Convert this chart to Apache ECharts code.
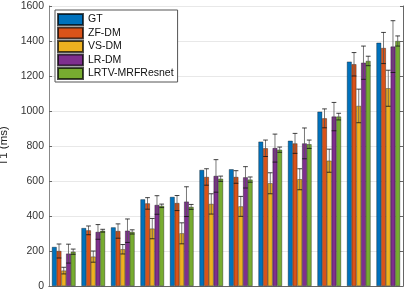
<!DOCTYPE html>
<html>
<head>
<meta charset="utf-8">
<script src="https://cdn.jsdelivr.net/npm/echarts@6/dist/echarts.min.js"></script>
<style>
html,body{margin:0;padding:0;background:#fff;}
#chart{width:407px;height:294px;}
</style>
</head>
<body>
<div id="chart"></div>
<script>
const categories = ['1','2','3','4','5','6','7','8','9','10','11','12'];
const seriesNames = ['GT','ZF-DM','VS-DM','LR-DM','LRTV-MRFResnet'];
const gtValues   = [223, 331, 335, 495, 509, 663, 667, 825, 830, 996, 1282, 1390];
const zfValues   = [200, 318, 314, 472, 474, 623, 623, 787, 815, 958, 1267, 1360];
const zfErr      = [40, 25, 41, 33, 43, 47, 36, 47, 57, 54, 67, 89];
const vsValues   = [88, 168, 210, 328, 301, 469, 455, 587, 610, 716, 1029, 1130];
const vsErr      = [19, 32, 27, 58, 60, 58, 57, 60, 60, 66, 96, 103];
const lrValues   = [185, 309, 316, 463, 482, 629, 621, 788, 815, 968, 1276, 1368];
const lrErr      = [54, 42, 67, 53, 85, 93, 61, 80, 88, 81, 95, 148];
const lrtvValues = [196, 316, 309, 458, 452, 613, 608, 779, 810, 968, 1286, 1400];
const lrtvErr    = [15, 8, 12, 10, 14, 15, 15, 15, 24, 19, 27, 29];
const yTicks = [0, 200, 400, 600, 800, 1000, 1200, 1400, 1600];

const colors = ['#0072BD','#D95319','#EDB120','#7E2F8E','#77AC30'];
const allValues = [gtValues, zfValues, vsValues, lrValues, lrtvValues];
const allErr = [null, zfErr, vsErr, lrErr, lrtvErr];
const nSeries = 5;
const groupFrac = 0.8;

const chart = echarts.init(document.getElementById('chart'), null, {renderer:'canvas'});

const series = [];
allValues.forEach((vals, i) => {
  series.push({
    name: seriesNames[i],
    type: 'bar',
    data: vals,
    barGap: '0%',
    barCategoryGap: '20%',
    itemStyle: {color: colors[i], borderColor: 'rgba(0,0,0,0.7)', borderWidth: 0.5},
    emphasis: {disabled: true},
    z: 2
  });
});
allErr.forEach((errs, i) => {
  if (!errs) return;
  const data = allValues[i].map((v, k) => [k, v - errs[k], v + errs[k]]);
  series.push({
    type: 'custom',
    name: seriesNames[i] + '-err',
    data: data,
    z: 5,
    silent: true,
    encode: {x: 0, y: [1, 2]},
    renderItem: function (params, api) {
      const k = api.value(0);
      const lo = api.coord([k, api.value(1)]);
      const hi = api.coord([k, api.value(2)]);
      const band = api.size([1, 0])[0];
      const bw = band * groupFrac / nSeries;
      const x = lo[0] + (i - (nSeries - 1) / 2) * bw;
      const cap = bw * 0.5;
      const st = {stroke: '#111', lineWidth: 0.8};
      return {
        type: 'group',
        children: [
          {type: 'line', shape: {x1: x, y1: lo[1], x2: x, y2: hi[1]}, style: {stroke: '#555', lineWidth: 0.8}},
          {type: 'line', shape: {x1: x - cap, y1: lo[1], x2: x + cap, y2: lo[1]}, style: st},
          {type: 'line', shape: {x1: x - cap, y1: hi[1], x2: x + cap, y2: hi[1]}, style: st}
        ]
      };
    }
  });
});

const option = {
  animation: false,
  backgroundColor: '#fff',
  textStyle: {fontFamily: 'Liberation Sans, Arial, sans-serif'},
  grid: {left: 49, right: 4, top: 6, bottom: 8, containLabel: false, outerBoundsMode: 'none'},
  legend: {
    data: seriesNames,
    orient: 'vertical',
    left: 55,
    top: 10,
    itemWidth: 25,
    itemHeight: 11,
    itemGap: 0.5,
    padding: [3, 4, 2, 2],
    backgroundColor: '#fff',
    borderColor: '#555',
    borderWidth: 1,
    icon: 'rect',
    textStyle: {fontSize: 10.5, lineHeight: 13, color: '#111', fontFamily: 'Liberation Sans, Arial, sans-serif'}
  },
  xAxis: [
    {type: 'category', data: categories, position: 'bottom',
     axisLine: {show: true, lineStyle: {color: '#888', width: 1}},
     axisTick: {show: false}, axisLabel: {show: false}, splitLine: {show: false}},
    {type: 'category', data: categories, position: 'top',
     axisLine: {show: true, lineStyle: {color: '#666', width: 1}},
     axisTick: {show: false}, axisLabel: {show: false}, splitLine: {show: false}}
  ],
  yAxis: [
    {type: 'value', min: 0, max: 1600, interval: 200, position: 'left',
     name: 'T1 (ms)', nameLocation: 'middle', nameRotate: 90, nameGap: 30,
     nameTextStyle: {fontSize: 11.5, color: '#262626'},
     axisLine: {show: true, lineStyle: {color: '#888', width: 1}},
     axisTick: {show: true, inside: true, length: 3, lineStyle: {color: '#666'}},
     axisLabel: {show: true, fontSize: 10.5, color: '#333', margin: 5,
                 formatter: v => (yTicks.indexOf(v) >= 0 ? String(v) : '')},
     splitLine: {show: true, lineStyle: {color: '#e8e8e8', width: 1}}},
    {type: 'value', min: 0, max: 1600, interval: 200, position: 'right',
     axisLine: {show: true, lineStyle: {color: '#666', width: 1}},
     axisTick: {show: true, inside: true, length: 3, lineStyle: {color: '#666'}},
     axisLabel: {show: false}, splitLine: {show: false}}
  ],
  series: series
};
chart.setOption(option);
</script>
</body>
</html>
